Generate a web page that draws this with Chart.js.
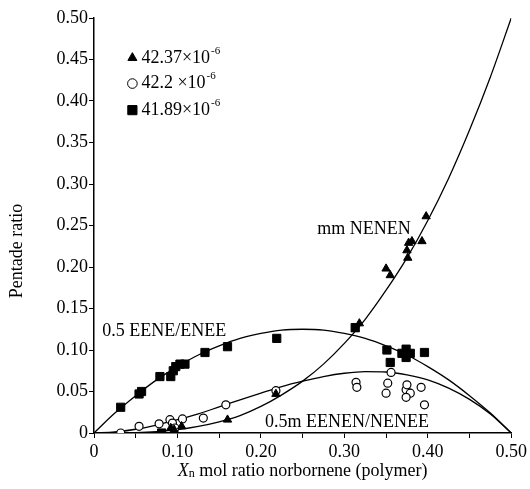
<!DOCTYPE html>
<html lang="en">
<head>
  <meta charset="UTF-8">
  <title>Pentade ratio</title>
  <style>
    body { margin: 0; background: #fff; }
  </style>
</head>
<body>
  <canvas id="chart" width="530" height="489"></canvas>
  <script src="https://cdn.jsdelivr.net/npm/chart.js@4.4.9/dist/chart.umd.min.js"></script>
  <script>
    // fitted curves, every 0.025
    const curveX = [0, 0.025, 0.05, 0.075, 0.1, 0.125, 0.15, 0.175, 0.2, 0.225, 0.25,
                    0.275, 0.3, 0.325, 0.35, 0.375, 0.4, 0.425, 0.45, 0.475, 0.5]
    const eeneCurve = [0, 0.024, 0.045, 0.064, 0.080, 0.094, 0.105, 0.114, 0.120, 0.124, 0.125,
                       0.124, 0.120, 0.114, 0.105, 0.094, 0.080, 0.064, 0.045, 0.024, 0]
    const nenenCurve = [0, 0.0001, 0.0005, 0.0017, 0.004, 0.008, 0.0135, 0.021, 0.032, 0.046, 0.0625,
                        0.083, 0.108, 0.137, 0.172, 0.211, 0.256, 0.307, 0.365, 0.429, 0.5]
    const eenenCurve = [0, 0.0012, 0.0045, 0.0096, 0.016, 0.023, 0.0315, 0.040, 0.048, 0.056, 0.0625,
                        0.068, 0.072, 0.074, 0.0735, 0.070, 0.064, 0.054, 0.0405, 0.023, 0]

    // 42.37e-6 (triangles)
    const triX = [0.092, 0.096, 0.105, 0.160, 0.218, 0.313, 0.318, 0.350, 0.355, 0.375, 0.377, 0.381, 0.376, 0.393, 0.398]
    const triY = [0.006, 0.004, 0.008, 0.016, 0.047, 0.125, 0.132, 0.198, 0.190, 0.220, 0.229, 0.231, 0.211, 0.231, 0.261]
    // 42.2e-6 (open circles)
    const circX = [0.032, 0.054, 0.078, 0.091, 0.094, 0.097, 0.106, 0.131, 0.158, 0.218, 0.314,
                   0.315, 0.350, 0.352, 0.356, 0.374, 0.375, 0.379, 0.374, 0.392, 0.396]
    const circY = [0.000, 0.008, 0.011, 0.016, 0.012, 0.006, 0.017, 0.018, 0.034, 0.051, 0.061,
                   0.055, 0.048, 0.060, 0.073, 0.052, 0.058, 0.048, 0.043, 0.055, 0.034]
    // 41.89e-6 (squares)
    const sqX = [0.032, 0.054, 0.057, 0.079, 0.081, 0.092, 0.095, 0.098, 0.103, 0.109, 0.133,
                 0.160, 0.219, 0.313, 0.351, 0.355, 0.369, 0.374, 0.374, 0.379, 0.396]
    const sqY = [0.031, 0.047, 0.050, 0.068, 0.000, 0.068, 0.075, 0.080, 0.083, 0.083, 0.097,
                 0.104, 0.114, 0.127, 0.100, 0.085, 0.096, 0.101, 0.091, 0.096, 0.097]

    const seriesNames = ['42.37×10', '42.2 ×10', '41.89×10']
    const yTicks = [0, 0.05, 0.10, 0.15, 0.20, 0.25, 0.30, 0.35, 0.40, 0.45, 0.50]

    const FONT = '"Liberation Serif", "Times New Roman", serif'
    const pts = (xs, ys) => xs.map((x, i) => ({ x, y: ys[i] }))

    const labelsPlugin = {
      id: 'labels',
      afterDraw(chart) {
        const { ctx, scales: { x, y } } = chart
        ctx.save()
        ctx.fillStyle = '#000'
        ctx.textBaseline = 'middle'
        ctx.font = '18px ' + FONT

        // curve labels
        ctx.textAlign = 'left'
        ctx.fillText('mm NENEN', x.getPixelForValue(0.2675), y.getPixelForValue(0.246))
        ctx.fillText('0.5 EENE/ENEE', x.getPixelForValue(0.010), y.getPixelForValue(0.122))
        ctx.fillText('0.5m EENEN/NENEE', x.getPixelForValue(0.205), y.getPixelForValue(0.013))

        // legend
        const styles = ['triangle', 'circle', 'rect']
        const rows = [0.452, 0.421, 0.389]
        rows.forEach((v, i) => {
          const py = y.getPixelForValue(v)
          const px = x.getPixelForValue(0.046)
          ctx.fillStyle = styles[i] === 'circle' ? '#fff' : '#000'
          ctx.strokeStyle = '#000'
          Chart.helpers.drawPoint(ctx, {
            pointStyle: styles[i],
            radius: styles[i] === 'rect' ? 6.5 : (styles[i] === 'triangle' ? 5.2 : 4.8),
            borderWidth: 1.3
          }, px, py)
          ctx.fillStyle = '#000'
          ctx.font = '18px ' + FONT
          const tx = px + 9
          ctx.fillText(seriesNames[i], tx, py)
          const w = ctx.measureText(seriesNames[i]).width
          ctx.font = '11px ' + FONT
          ctx.fillText('-6', tx + w + 1, py - 7)
        })

        // y axis title
        ctx.save()
        ctx.translate(17, 251)
        ctx.rotate(-Math.PI / 2)
        ctx.textAlign = 'center'
        ctx.font = '18px ' + FONT
        ctx.fillText('Pentade ratio', 0, 0)
        ctx.restore()

        // x axis title with italic X and subscript n
        const rest = ' mol ratio norbornene (polymer)'
        ctx.font = 'italic 18px ' + FONT
        const wX = ctx.measureText('X').width
        ctx.font = '12px ' + FONT
        const wN = ctx.measureText('n').width
        ctx.font = '18px ' + FONT
        const wR = ctx.measureText(rest).width
        let sx = (chart.chartArea.left + chart.chartArea.right) / 2 - (wX + wN + wR) / 2
        const sy = 471
        ctx.textAlign = 'left'
        ctx.font = 'italic 18px ' + FONT
        ctx.fillText('X', sx, sy)
        sx += wX
        ctx.font = '12px ' + FONT
        ctx.fillText('n', sx, sy + 3)
        sx += wN
        ctx.font = '18px ' + FONT
        ctx.fillText(rest, sx, sy)
        ctx.restore()
      }
    }

    const curveStyle = {
      showLine: true,
      borderColor: '#000',
      borderWidth: 1.3,
      pointRadius: 0,
      cubicInterpolationMode: 'monotone',
      fill: false
    }

    new Chart(document.getElementById('chart'), {
      type: 'scatter',
      data: {
        datasets: [
          {
            label: seriesNames[0],
            data: pts(triX, triY),
            pointStyle: 'triangle',
            pointRadius: 4.8,
            backgroundColor: '#000',
            borderColor: '#000',
            borderWidth: 1
          },
          {
            label: seriesNames[2],
            data: pts(sqX, sqY),
            pointStyle: 'rect',
            pointRadius: 5.8,
            backgroundColor: '#000',
            borderColor: '#000',
            borderWidth: 1
          },
          {
            label: seriesNames[1],
            data: pts(circX, circY),
            pointStyle: 'circle',
            pointRadius: 4,
            backgroundColor: '#fff',
            borderColor: '#000',
            borderWidth: 1.2
          },
          { label: 'EENE', data: pts(curveX, eeneCurve), ...curveStyle },
          { label: 'NENEN', data: pts(curveX, nenenCurve), ...curveStyle },
          { label: 'EENEN', data: pts(curveX, eenenCurve), ...curveStyle }
        ]
      },
      options: {
        responsive: false,
        animation: false,
        layout: { padding: { top: 18, right: 16, left: 0, bottom: 0 } },
        plugins: {
          legend: { display: false },
          tooltip: { enabled: false }
        },
        scales: {
          x: {
            type: 'linear',
            min: 0,
            max: 0.5,
            afterFit: s => { s.height = 56 },
            border: { color: '#000', width: 1.5 },
            grid: { drawOnChartArea: false, color: '#000', tickLength: 5, lineWidth: 1 },
            ticks: {
              stepSize: 0.05,
              autoSkip: false,
              maxRotation: 0,
              padding: 3,
              color: '#000',
              font: { family: FONT, size: 18 },
              callback: v => {
                const k = Math.round(v * 100)
                if (k % 10 !== 0) return ''
                return k === 0 ? '0' : (k / 100).toFixed(2)
              }
            }
          },
          y: {
            type: 'linear',
            min: 0,
            max: 0.5,
            afterFit: s => { s.width = 94 },
            afterBuildTicks: s => { s.ticks = yTicks.map(v => ({ value: v })) },
            border: { color: '#000', width: 1.5 },
            grid: { drawOnChartArea: false, color: '#000', tickLength: 5, lineWidth: 1 },
            ticks: {
              padding: 1,
              color: '#000',
              font: { family: FONT, size: 18 },
              callback: v => v === 0 ? '0' : v.toFixed(2)
            }
          }
        }
      },
      plugins: [labelsPlugin]
    })
  </script>
</body>
</html>
